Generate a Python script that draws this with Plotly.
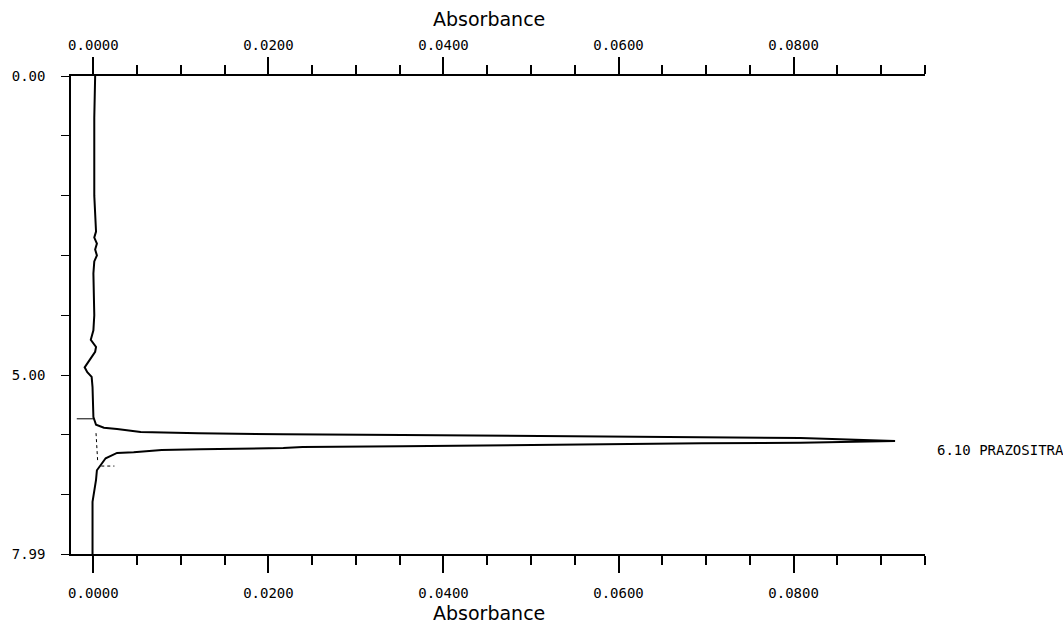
import plotly.graph_objects as go

# ---- data (absorbance vs retention time, minutes) ----
baseline_time = [0.00, 0.70, 2.00, 2.60, 2.70, 2.80, 2.90, 3.00, 3.10, 3.30, 4.00, 4.25,
                 4.41, 4.53, 4.61, 4.75, 4.87, 4.95, 5.03, 5.20, 5.70]
baseline_abs = [0.0002, 0.0001, 0.0001, 0.0003, 0.0001, 0.0004, 0.0002, 0.0004, 0.0001, 0.0000,
                0.0001, 0.0000, -0.0003, 0.0003, 0.0002, -0.0005, -0.0010, -0.0007, -0.0002,
                -0.0001, 0.0000]
rise_time = [5.83, 5.88, 5.90, 5.95, 5.97, 5.99, 6.00, 6.02, 6.03, 6.05, 6.10]
rise_abs = [0.0003, 0.0012, 0.0027, 0.0054, 0.0120, 0.0217, 0.0353, 0.0524, 0.0695, 0.0808, 0.0916]
fall_time = [6.13, 6.14, 6.17, 6.19, 6.20, 6.22, 6.24, 6.25, 6.29, 6.30, 6.39, 6.50, 6.59,
             6.75, 6.92, 7.12, 7.99]
fall_abs = [0.0808, 0.0695, 0.0524, 0.0353, 0.0239, 0.0217, 0.0122, 0.0078, 0.0046, 0.0027,
            0.0014, 0.0009, 0.0004, 0.0003, 0.0001, -0.0001, -0.0001]

# integration markers
start_mark_abs = [-0.0019, 0.0000]
start_mark_time = [5.73, 5.73]
base_mark_abs = [0.0003, 0.0005]
base_mark_time = [5.97, 6.47]
end_mark_abs = [0.0009, 0.0024]
end_mark_time = [6.52, 6.52]

peak_label = "6.10 PRAZOSITRA"
peak_time = 6.10

x_major = [0.0, 0.02, 0.04, 0.06, 0.08]
x_major_text = ["0.0000", "0.0200", "0.0400", "0.0600", "0.0800"]
y_ticks = [0, 1, 2, 3, 4, 5, 6, 7, 7.99]
y_ticks_text = ["0.00", "", "", "", "", "5.00", "", "", "7.99"]

trace_t = baseline_time + rise_time + fall_time
trace_a = baseline_abs + rise_abs + fall_abs

FONT = "DejaVu Sans Mono"

fig = go.Figure()
fig.add_trace(go.Scatter(x=trace_a, y=trace_t, mode="lines",
                         line=dict(color="black", width=2), hoverinfo="skip", showlegend=False))
fig.add_trace(go.Scatter(x=start_mark_abs, y=start_mark_time, mode="lines",
                         line=dict(color="black", width=1), showlegend=False))
fig.add_trace(go.Scatter(x=base_mark_abs, y=base_mark_time, mode="lines",
                         line=dict(color="black", width=1, dash="dot"), showlegend=False))
fig.add_trace(go.Scatter(x=end_mark_abs, y=end_mark_time, mode="lines",
                         line=dict(color="black", width=1, dash="dot"), showlegend=False))
# dummy trace for top axis
fig.add_trace(go.Scatter(x=[0], y=[0], xaxis="x2", mode="markers",
                         marker=dict(opacity=0), showlegend=False, hoverinfo="skip"))

xr = [-0.00256, 0.09502]
common_x = dict(range=xr, showgrid=False, zeroline=False, showline=True, linecolor="black",
                tickmode="array", tickvals=x_major, ticktext=x_major_text,
                ticks="outside", tickcolor="black", tickwidth=1.5,
                tickfont=dict(family=FONT, size=14, color="black"),
                minor=dict(tickmode="linear", tick0=0, dtick=0.005, ticks="outside",
                           ticklen=9, tickcolor="black", tickwidth=1.5, showgrid=False))

fig.update_layout(
    width=1063, height=626,
    margin=dict(l=67, r=138, t=76, b=72),
    paper_bgcolor="white", plot_bgcolor="white",
    xaxis=dict(**common_x, side="bottom", linewidth=2, ticklen=17, ticklabelstandoff=8),
    xaxis2=dict(**common_x, side="top", overlaying="x", matches="x", linewidth=1.5,
                ticklen=17, ticklabelstandoff=2),
    yaxis=dict(range=[7.99, 0], showgrid=False, zeroline=False, showline=True,
               linecolor="black", linewidth=1.5, tickmode="array", tickvals=y_ticks,
               ticktext=y_ticks_text, ticks="outside", ticklen=8, tickcolor="black",
               tickfont=dict(family=FONT, size=14, color="black"), ticklabelstandoff=13),
    showlegend=False,
)

fig.add_annotation(text="Absorbance", xref="paper", yref="paper", x=0.49, y=1,
                   yanchor="bottom", yshift=44, showarrow=False,
                   font=dict(family="DejaVu Sans", size=19, color="black"))
fig.add_annotation(text="Absorbance", xref="paper", yref="paper", x=0.49, y=0,
                   yanchor="top", yshift=-46, showarrow=False,
                   font=dict(family="DejaVu Sans", size=19, color="black"))
fig.add_annotation(text=peak_label, xref="paper", yref="y", x=1, y=peak_time,
                   xanchor="left", xshift=10, yshift=-9, showarrow=False,
                   font=dict(family=FONT, size=14, color="black"))

fig.write_html("out.html")
